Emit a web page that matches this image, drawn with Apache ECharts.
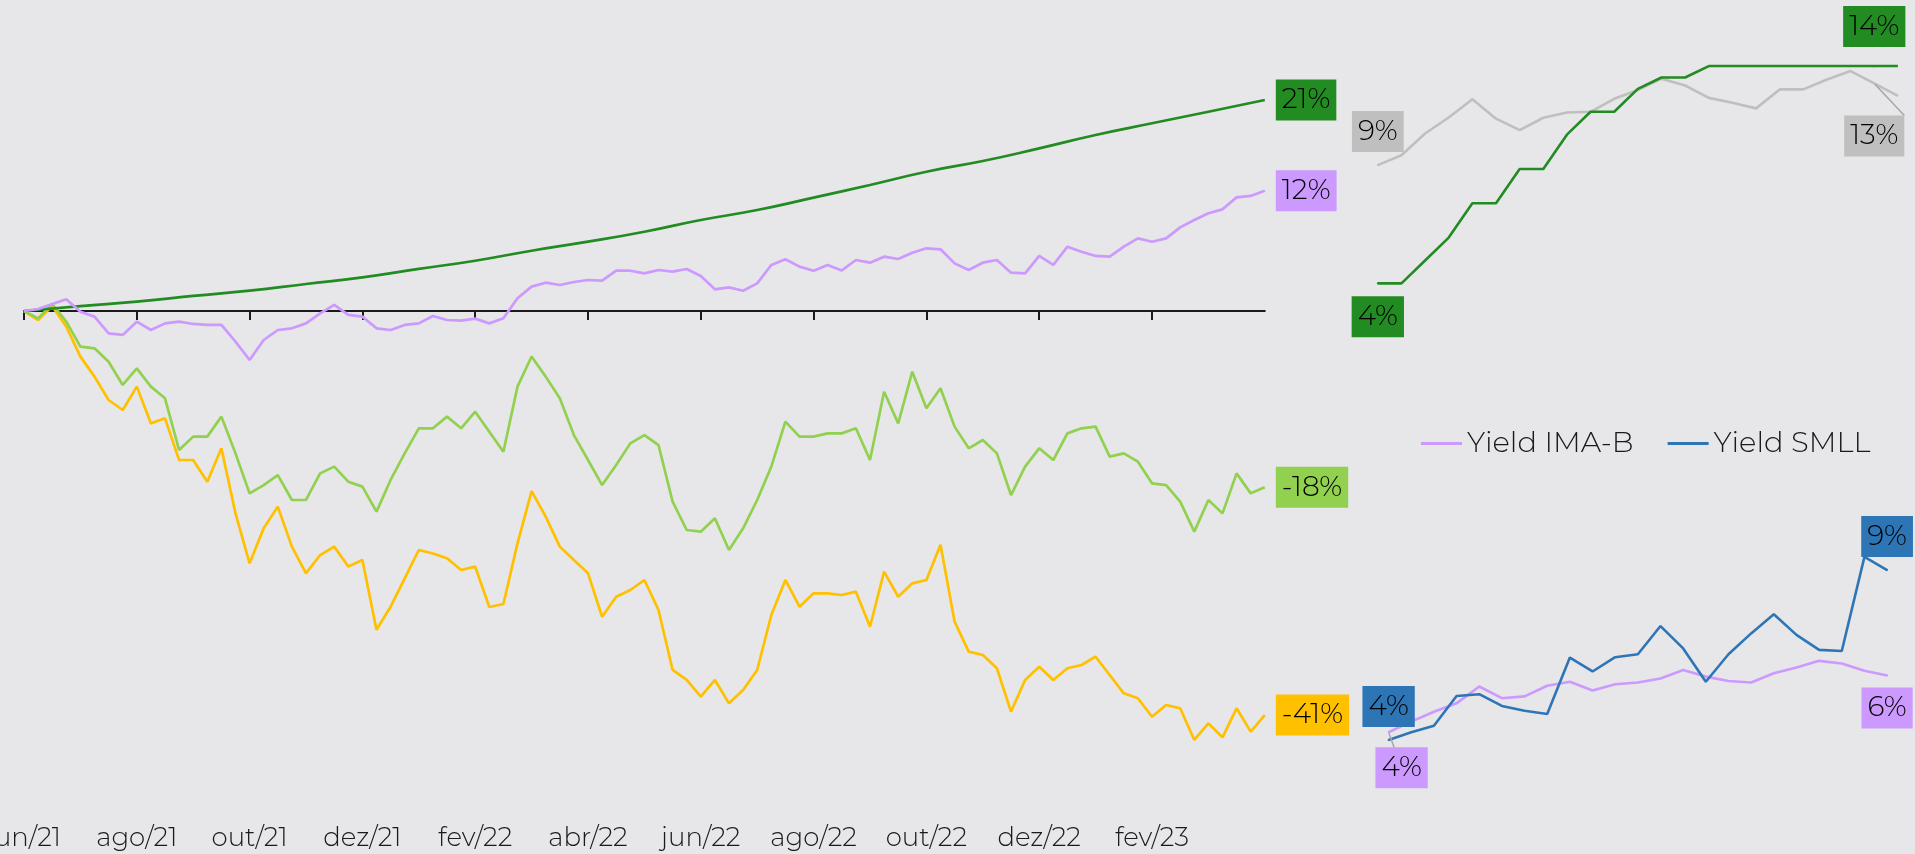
<!DOCTYPE html>
<html>
<head>
    <meta charset="utf-8" />
    <title></title>
    <script src="https://cdn.jsdelivr.net/npm/echarts@6/dist/echarts.min.js"></script>
    <style>
        * {
            margin: 0;
            padding: 0;
            box-sizing: border-box;
        }

        html, body {
            width: 1915px;
            height: 854px;
            overflow: hidden;
            background: #E7E7E9;
        }

        #chart {
            width: 1915px;
            height: 854px;
        }
    </style>
</head>
<body>
    <div id="chart"></div>

    <script>
        // eixo principal: meses desde jun/21, pontos a cada 0,25 mes
        const tickLabels = ['jun/21', 'ago/21', 'out/21', 'dez/21', 'fev/22', 'abr/22', 'jun/22', 'ago/22', 'out/22', 'dez/22', 'fev/23', ''];
        const step = 0.25;

        // retorno acumulado (%) - CDI mensal, demais semanais
        const cdi = [0, 0.5, 0.94, 1.52, 2.05, 2.73, 3.4, 4.25, 5.08, 6.09, 7.0, 8.01, 9.19, 10.2, 11.45, 12.73, 14.07, 15.15, 16.43, 17.78, 18.96, 20.13, 21.31];

        const imab = [0, 0.2, 0.71, 1.18, -0.07, -0.57, -2.26, -2.42, -1.08, -1.92,
            -1.25, -1.08, -1.31, -1.41, -1.41, -3.1, -4.95, -2.93, -1.92, -1.75,
            -1.25, -0.24, 0.61, -0.4, -0.57, -1.75, -1.92, -1.41, -1.25, -0.5,
            -0.91, -0.98, -0.77, -1.25, -0.74, 1.28, 2.46, 2.86, 2.63, 2.93,
            3.13, 3.06, 4.07, 4.07, 3.8, 4.14, 3.97, 4.24, 3.54, 2.19,
            2.39, 2.05, 2.79, 4.65, 5.22, 4.48, 4.07, 4.65, 4.1, 5.15,
            4.88, 5.49, 5.25, 5.89, 6.33, 6.23, 4.81, 4.14, 4.88, 5.15,
            3.87, 3.8, 5.56, 4.65, 6.5, 5.99, 5.56, 5.49, 6.5, 7.34,
            7.0, 7.34, 8.45, 9.19, 9.87, 10.27, 11.48, 11.62, 12.15];

        const ibov = [0, -0.74, 0.71, -1.08, -3.6, -3.77, -5.12, -7.47, -5.79, -7.64,
            -8.82, -14.04, -12.69, -12.69, -10.67, -14.38, -18.42, -17.58, -16.57, -19.09,
            -19.09, -16.4, -15.72, -17.24, -17.74, -20.27, -17.07, -14.38, -11.85, -11.85,
            -10.67, -11.85, -10.17, -12.19, -14.21, -7.64, -4.6, -6.63, -8.82, -12.53,
            -15.05, -17.58, -15.56, -13.37, -12.53, -13.54, -19.26, -22.12, -22.29, -20.94,
            -24.14, -21.95, -19.09, -15.72, -11.18, -12.69, -12.69, -12.36, -12.36, -11.85,
            -15.05, -8.15, -11.35, -6.13, -9.83, -7.81, -11.68, -13.87, -13.03, -14.38,
            -18.59, -15.72, -13.87, -15.05, -12.36, -11.85, -11.68, -14.71, -14.38, -15.22,
            -17.41, -17.58, -19.26, -22.29, -19.09, -20.44, -16.4, -18.42, -17.81];

        const smll = [0, -0.91, 0.51, -1.58, -4.61, -6.63, -8.99, -10.0, -7.64, -11.35,
            -10.84, -15.05, -15.05, -17.24, -13.87, -20.44, -25.49, -21.95, -19.76, -23.8,
            -26.5, -24.65, -23.8, -25.8, -25.15, -32.2, -29.87, -27.0, -24.14, -24.5,
            -24.98, -26.16, -25.82, -29.9, -29.6, -23.47, -18.2, -20.77, -23.8, -25.15,
            -26.5, -30.88, -28.86, -28.18, -27.17, -30.2, -36.26, -37.27, -38.96, -37.27,
            -39.63, -38.28, -36.26, -30.71, -27.17, -29.87, -28.52, -28.52, -28.69, -28.35,
            -31.89, -26.33, -28.86, -27.51, -27.17, -23.6, -31.38, -34.41, -34.75, -36.09,
            -40.47, -37.27, -35.93, -37.27, -36.09, -35.76, -34.92, -36.77, -38.62, -39.12,
            -40.98, -39.8, -40.13, -43.33, -41.65, -43.06, -40.13, -42.49, -40.81];

        // quadros da direita: taxas mensais (% a.a.)
        const selic = [4.25, 4.25, 5.25, 6.25, 7.75, 7.75, 9.25, 9.25, 10.75, 11.75, 11.75, 12.75, 13.25, 13.25, 13.75, 13.75, 13.75, 13.75, 13.75, 13.75, 13.75, 13.75, 13.75];
        const yieldPre = [9.42, 9.85, 10.8, 11.5, 12.3, 11.45, 10.95, 11.49, 11.72, 11.75, 12.32, 12.7, 13.2, 12.9, 12.36, 12.15, 11.9, 12.73, 12.73, 13.16, 13.53, 12.99, 12.45];
        const yieldImab = [4.21, 4.5, 4.77, 5.0, 5.46, 5.14, 5.19, 5.48, 5.59, 5.35, 5.52, 5.57, 5.68, 5.91, 5.73, 5.61, 5.57, 5.82, 5.98, 6.16, 6.09, 5.89, 5.76];
        const yieldSmll = [4.0, 4.21, 4.39, 5.2, 5.25, 4.93, 4.8, 4.71, 6.25, 5.87, 6.26, 6.34, 7.11, 6.5, 5.59, 6.34, 6.91, 7.43, 6.87, 6.46, 6.43, 9.0, 8.64];
        const insetIdx = yieldImab.map((_, i) => i);

        const FONT = "Montserrat, Inter, 'Open Sans', 'DejaVu Sans', sans-serif";
        const C = {
            cdi: '#228B22', imab: '#CC99FF', ibov: '#92D050', smll: '#FFC000',
            pre: '#BFBFBF', ysmll: '#2E75B6', guide: '#A6A6A6'
        };

        const pct = v => Math.round(v) + '%';

        function box(bg, extra) {
            return Object.assign({
                show: true,
                formatter: p => pct(Array.isArray(p.value) ? p.value[1] : p.value),
                backgroundColor: bg,
                color: '#000',
                fontFamily: FONT,
                fontWeight: 300,
                fontSize: 28,
                lineHeight: 29,
                padding: [6, 6, 6, 6]
            }, extra);
        }

        function mainLine(name, values, color, dt, smooth) {
            return {
                name: name,
                type: 'line',
                xAxisIndex: 0,
                yAxisIndex: 0,
                data: values.map((v, i) => [i * dt, v]),
                symbol: 'none',
                smooth: !!smooth,
                lineStyle: { color: color, width: 2.7 },
                itemStyle: { color: color },
                endLabel: box(color, { distance: 11 })
            };
        }

        function insetLine(name, values, color, g, marks) {
            return {
                name: name,
                type: 'line',
                xAxisIndex: g + 2,
                yAxisIndex: g,
                data: values.map((v, i) => marks[i]
                    ? Object.assign({ value: v, symbol: 'circle', symbolSize: 2 }, marks[i])
                    : v),
                symbol: 'none',
                showSymbol: true,
                lineStyle: { color: color, width: 2.6 },
                itemStyle: { color: color },
                labelLine: { lineStyle: { color: C.guide, width: 1.5 } }
            };
        }

        const chart = echarts.init(document.getElementById('chart'));

        const option = {
            backgroundColor: '#E7E7E9',
            animation: false,
            textStyle: { fontFamily: FONT },
            grid: [
                { left: 24, top: 63.5, width: 1240.8, height: 742.5, outerBoundsMode: 'none', containLabel: false },
                { left: 1377.8, top: 14.6, width: 520.1, height: 320.2, outerBoundsMode: 'none', containLabel: false },
                { left: 1388.6, top: 520.2, width: 498.5, height: 256.4, outerBoundsMode: 'none', containLabel: false }
            ],
            legend: {
                data: ['Yield IMA-B', 'Yield SMLL'],
                left: 1416,
                top: 424,
                icon: 'rect',
                itemWidth: 41,
                itemHeight: 3,
                itemGap: 34,
                textStyle: { fontSize: 29, color: '#1a1a1a', fontFamily: FONT, fontWeight: 300 }
            },
            xAxis: [
                {
                    type: 'value', gridIndex: 0, min: 0, max: 22, show: false, position: 'bottom',
                    axisLine: { onZero: false }
                },
                {
                    type: 'category', gridIndex: 0, data: tickLabels, boundaryGap: false, position: 'bottom',
                    axisLine: { onZero: true, onZeroAxisIndex: 0, lineStyle: { color: '#1a1a1a', width: 2 } },
                    axisTick: { show: true, length: 9, lineStyle: { color: '#1a1a1a', width: 2 }, interval: (i, v) => v !== '' },
                    axisLabel: { show: false },
                    splitLine: { show: false }
                },
                {
                    type: 'category', gridIndex: 0, data: tickLabels, boundaryGap: false, position: 'bottom',
                    axisLine: { show: false, onZero: false },
                    axisTick: { show: false },
                    axisLabel: { show: true, interval: 0, fontSize: 26, color: '#1a1a1a', margin: 19, fontFamily: FONT, fontWeight: 300 },
                    splitLine: { show: false }
                },
                { type: 'category', gridIndex: 1, data: insetIdx, boundaryGap: false, show: false },
                { type: 'category', gridIndex: 2, data: insetIdx, boundaryGap: false, show: false }
            ],
            yAxis: [
                { type: 'value', gridIndex: 0, min: -50, max: 25, show: false },
                { type: 'value', gridIndex: 1, min: 2, max: 16, show: false },
                { type: 'value', gridIndex: 2, min: 3, max: 10, show: false }
            ],
            series: [
                mainLine('SMLL', smll, C.smll, step),
                mainLine('Ibovespa', ibov, C.ibov, step),
                mainLine('CDI', cdi, C.cdi, 1, true),
                mainLine('IMA-B', imab, C.imab, step),

                insetLine('Yield Pré', yieldPre, C.pre, 1, {
                    0: { label: box(C.pre, { position: 'top', distance: 12 }) },
                    21: { label: box(C.pre, { position: 'bottom', distance: 31 }), labelLine: { show: true } }
                }),
                insetLine('Selic', selic, C.cdi, 1, {
                    0: { label: box(C.cdi, { position: 'bottom', distance: 12 }) },
                    21: { label: box(C.cdi, { position: 'top', distance: 18 }), labelLine: { show: true } }
                }),
                insetLine('Yield IMA-B', yieldImab, C.imab, 2, {
                    0: { label: box(C.imab, { position: 'bottom', distance: 14, offset: [13, 0] }), labelLine: { show: true } },
                    22: { label: box(C.imab, { position: 'bottom', distance: 11 }) }
                }),
                insetLine('Yield SMLL', yieldSmll, C.ysmll, 2, {
                    0: { label: box(C.ysmll, { position: 'top', distance: 12 }) },
                    22: { label: box(C.ysmll, { position: 'top', distance: 12 }) }
                })
            ]
        };

        chart.setOption(option);

        window.addEventListener('resize', function () {
            chart.resize();
        });
    </script>
</body>
</html>
